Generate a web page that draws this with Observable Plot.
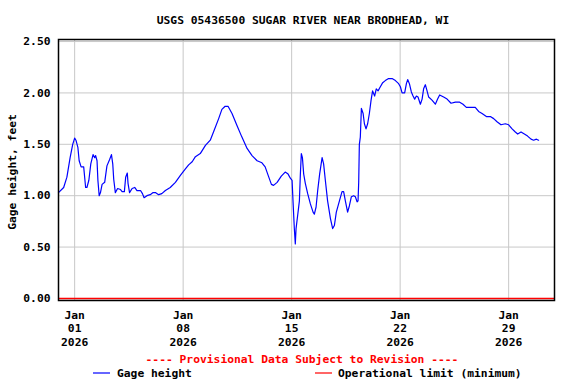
<!DOCTYPE html>
<html>
<head>
<meta charset="utf-8">
<script src="https://cdn.jsdelivr.net/npm/d3@7"></script>
<script src="https://cdn.jsdelivr.net/npm/@observablehq/plot@0.6"></script>
<style>
  html, body { margin: 0; padding: 0; background: #fff; }
  #chart svg { display: block; }
</style>
</head>
<body>
<div id="chart"></div>
<script>
// ---- Data ----
const title = "USGS 05436500 SUGAR RIVER NEAR BRODHEAD, WI";
const yLabel = "Gage height, feet";
const provisionalNote = "---- Provisional Data Subject to Revision ----";
const legendLabels = ["Gage height", "Operational limit (minimum)"];

const times = [
  "2025-12-30T23:00","2025-12-31T07:00","2025-12-31T12:00","2025-12-31T17:00","2025-12-31T21:00",
  "2026-01-01T00:00","2026-01-01T02:00","2026-01-01T05:00","2026-01-01T07:00","2026-01-01T10:00",
  "2026-01-01T14:00","2026-01-01T17:00","2026-01-01T19:00","2026-01-01T22:00","2026-01-02T01:00",
  "2026-01-02T04:30","2026-01-02T07:00","2026-01-02T08:30","2026-01-02T10:40","2026-01-02T12:00",
  "2026-01-02T14:00","2026-01-02T16:00","2026-01-02T18:30","2026-01-02T22:30","2026-01-03T02:00",
  "2026-01-03T06:00","2026-01-03T09:00","2026-01-03T11:00","2026-01-03T12:30","2026-01-03T15:00",
  "2026-01-03T18:30","2026-01-03T23:00","2026-01-04T01:30","2026-01-04T05:00","2026-01-04T07:00",
  "2026-01-04T09:30","2026-01-04T10:40","2026-01-04T13:00","2026-01-04T17:00","2026-01-04T21:00",
  "2026-01-05T00:30","2026-01-05T06:00","2026-01-05T09:00","2026-01-05T11:30","2026-01-05T16:00",
  "2026-01-05T21:00","2026-01-06T01:30","2026-01-06T05:00","2026-01-06T10:00","2026-01-06T15:00",
  "2026-01-06T20:30","2026-01-07T04:00","2026-01-07T12:00","2026-01-07T20:00","2026-01-08T03:30",
  "2026-01-08T08:30","2026-01-08T14:00","2026-01-08T19:00","2026-01-09T02:30","2026-01-09T10:30",
  "2026-01-09T18:00","2026-01-09T23:00","2026-01-10T07:00","2026-01-10T12:00","2026-01-10T17:00",
  "2026-01-10T21:30","2026-01-11T03:40","2026-01-11T11:30","2026-01-11T19:00","2026-01-12T03:00",
  "2026-01-12T10:40","2026-01-12T18:30","2026-01-13T02:00","2026-01-13T07:00","2026-01-13T11:30",
  "2026-01-13T16:40","2026-01-13T20:00","2026-01-14T01:30","2026-01-14T08:00","2026-01-14T14:00",
  "2026-01-14T18:30","2026-01-14T22:00","2026-01-15T00:40","2026-01-15T02:10","2026-01-15T04:10",
  "2026-01-15T05:40","2026-01-15T06:50","2026-01-15T09:20","2026-01-15T12:00","2026-01-15T13:30",
  "2026-01-15T15:00","2026-01-15T16:40","2026-01-15T18:40","2026-01-15T21:10","2026-01-16T00:50",
  "2026-01-16T05:00","2026-01-16T09:10","2026-01-16T11:10","2026-01-16T13:50","2026-01-16T16:20",
  "2026-01-16T19:20","2026-01-16T23:10","2026-01-17T01:30","2026-01-17T04:10","2026-01-17T07:40",
  "2026-01-17T12:00","2026-01-17T15:30","2026-01-17T18:10","2026-01-17T21:10","2026-01-18T02:00",
  "2026-01-18T06:00","2026-01-18T08:30","2026-01-18T11:10","2026-01-18T14:40","2026-01-18T17:20",
  "2026-01-18T20:30","2026-01-19T00:00","2026-01-19T02:40","2026-01-19T05:20","2026-01-19T06:50",
  "2026-01-19T07:50","2026-01-19T08:50","2026-01-19T10:20","2026-01-19T12:00","2026-01-19T14:40",
  "2026-01-19T16:40","2026-01-19T19:10","2026-01-19T21:40","2026-01-20T00:20","2026-01-20T03:00",
  "2026-01-20T05:20","2026-01-20T08:30","2026-01-20T11:00","2026-01-20T13:50","2026-01-20T17:20",
  "2026-01-20T21:00","2026-01-21T01:00","2026-01-21T06:10","2026-01-21T11:30","2026-01-21T16:40",
  "2026-01-21T21:40","2026-01-22T00:20","2026-01-22T03:00","2026-01-22T07:00","2026-01-22T09:40",
  "2026-01-22T11:40","2026-01-22T14:20","2026-01-22T17:20","2026-01-22T20:00","2026-01-22T22:30",
  "2026-01-23T01:10","2026-01-23T03:40","2026-01-23T07:20","2026-01-23T10:00","2026-01-23T12:20",
  "2026-01-23T15:00","2026-01-23T17:40","2026-01-23T20:10","2026-01-24T01:20","2026-01-24T06:30",
  "2026-01-24T10:00","2026-01-24T13:10","2026-01-24T19:20","2026-01-25T00:40","2026-01-25T06:50",
  "2026-01-25T13:30","2026-01-25T20:10","2026-01-26T01:20","2026-01-26T06:30","2026-01-26T12:40",
  "2026-01-26T20:20","2026-01-27T01:30","2026-01-27T06:50","2026-01-27T13:30","2026-01-27T19:40",
  "2026-01-28T00:50","2026-01-28T06:00","2026-01-28T12:10","2026-01-28T18:50","2026-01-29T00:00",
  "2026-01-29T05:20","2026-01-29T10:20","2026-01-29T14:00","2026-01-29T19:10","2026-01-30T00:20",
  "2026-01-30T05:20","2026-01-30T10:40","2026-01-30T14:40","2026-01-30T19:00","2026-01-30T22:20"
];

const gageHeight = [
  1.03,1.08,1.18,1.37,1.50,
  1.56,1.54,1.47,1.34,1.28,
  1.28,1.08,1.08,1.15,1.31,
  1.40,1.37,1.39,1.34,1.15,
  1.00,1.03,1.11,1.13,1.29,
  1.35,1.40,1.31,1.16,1.03,
  1.07,1.06,1.04,1.04,1.18,
  1.22,1.12,1.03,1.07,1.08,
  1.05,1.05,1.02,0.98,1.00,
  1.01,1.03,1.03,1.01,1.02,
  1.05,1.08,1.13,1.20,1.26,
  1.30,1.33,1.38,1.41,1.49,
  1.54,1.62,1.75,1.84,1.87,
  1.87,1.80,1.68,1.57,1.46,
  1.39,1.34,1.32,1.28,1.20,
  1.11,1.10,1.13,1.19,1.23,
  1.21,1.17,1.15,0.94,0.68,
  0.53,0.68,0.81,0.95,1.21,
  1.41,1.37,1.21,1.12,1.02,
  0.92,0.84,0.82,0.89,1.05,
  1.21,1.37,1.31,1.15,0.95,
  0.78,0.68,0.71,0.84,0.95,
  1.04,1.04,0.95,0.84,0.90,
  0.99,1.00,0.99,0.94,0.95,
  1.13,1.50,1.57,1.85,1.80,
  1.70,1.65,1.70,1.80,1.93,
  2.02,1.97,2.04,2.02,2.06,
  2.10,2.12,2.14,2.14,2.12,
  2.09,2.06,2.00,2.00,2.09,
  2.13,2.09,2.01,1.97,1.94,
  1.97,1.96,1.89,1.94,2.04,
  2.08,2.02,1.96,1.93,1.89,
  1.94,1.98,1.96,1.94,1.90,
  1.91,1.91,1.89,1.86,1.86,
  1.86,1.82,1.80,1.77,1.77,
  1.75,1.72,1.69,1.70,1.69,
  1.65,1.62,1.60,1.62,1.60,
  1.58,1.55,1.54,1.55,1.54
];

const operationalLimit = [0.0];
const xTickDates = ["2026-01-01","2026-01-08","2026-01-15","2026-01-22","2026-01-29"];
const yTicks = [0.0, 0.5, 1.0, 1.5, 2.0, 2.5];
const xDomain = ["2025-12-30T23:00", "2026-01-31T23:00"];
const yDomain = [-0.02, 2.52];

// ---- Build ----
const parse = s => new Date(s + (s.length > 10 ? ":00Z" : "T00:00:00Z"));
const data = times.map((t, i) => ({date: parse(t), value: gageHeight[i]}));
const xTicks = xTickDates.map(parse);

const FONT = "'DejaVu Sans Mono', 'Liberation Mono', monospace";
const FS = 11.3;
const monthFmt = d3.utcFormat("%b");
const dayFmt = d3.utcFormat("%d");
const yearFmt = d3.utcFormat("%Y");

const W = 576, H = 384;
const mTop = 39, mBottom = 84, mLeft = 58, mRight = 22;

const plot = Plot.plot({
  width: W,
  height: H,
  marginTop: mTop,
  marginBottom: mBottom,
  marginLeft: mLeft,
  marginRight: mRight,
  style: {fontFamily: FONT, fontSize: FS + "px", fontWeight: "bold", color: "#000", background: "#fff"},
  x: {type: "utc", domain: xDomain.map(parse)},
  y: {domain: yDomain},
  marks: [
    Plot.gridX(xTicks, {stroke: "#c8c8c8", strokeOpacity: 1, strokeWidth: 1}),
    Plot.gridY(yTicks, {stroke: "#c8c8c8", strokeOpacity: 1, strokeWidth: 1}),
    Plot.ruleY(operationalLimit, {stroke: "#ff0000", strokeWidth: 1.5}),
    Plot.line(data, {x: "date", y: "value", stroke: "#0000ff", strokeWidth: 1.2}),
    Plot.frame({stroke: "#000", strokeWidth: 1.5}),
    Plot.axisY(yTicks, {
      tickSize: 0, tickPadding: 8, tickFormat: d3.format(".2f"),
      label: null, fontWeight: "bold", fontSize: FS, fill: "#000"
    }),
    Plot.axisX(xTicks, {
      tickSize: 0, tickPadding: 9, lineHeight: 1.18,
      tickFormat: d => `${monthFmt(d)}\n${dayFmt(d)}\n${yearFmt(d)}`,
      label: null, fontWeight: "bold", fontSize: FS, fill: "#000"
    })
  ]
});

document.getElementById("chart").appendChild(plot);

// Extra text: title, y label, provisional note, legend
const svg = d3.select(plot);
const txt = (x, y, s, opts = {}) => svg.append("text")
  .attr("x", x).attr("y", y)
  .attr("font-family", FONT).attr("font-size", FS).attr("font-weight", "bold")
  .attr("fill", opts.fill || "#000")
  .attr("text-anchor", opts.anchor || "start")
  .attr("dominant-baseline", "central")
  .attr("transform", opts.transform || null)
  .text(s);

txt(303, 20, title, {anchor: "middle"});
txt(0, 0, yLabel, {anchor: "middle", transform: "translate(12,172) rotate(-90)"});
txt(302, 359, provisionalNote, {anchor: "middle", fill: "#ff0000"});

const legendY = 373;
svg.append("line").attr("x1", 93).attr("x2", 110).attr("y1", legendY).attr("y2", legendY)
  .attr("stroke", "#0000ff").attr("stroke-width", 1.2);
txt(117, legendY, legendLabels[0]);
svg.append("line").attr("x1", 315).attr("x2", 332).attr("y1", legendY).attr("y2", legendY)
  .attr("stroke", "#ff0000").attr("stroke-width", 1.2);
txt(338, legendY, legendLabels[1]);
</script>
</body>
</html>
